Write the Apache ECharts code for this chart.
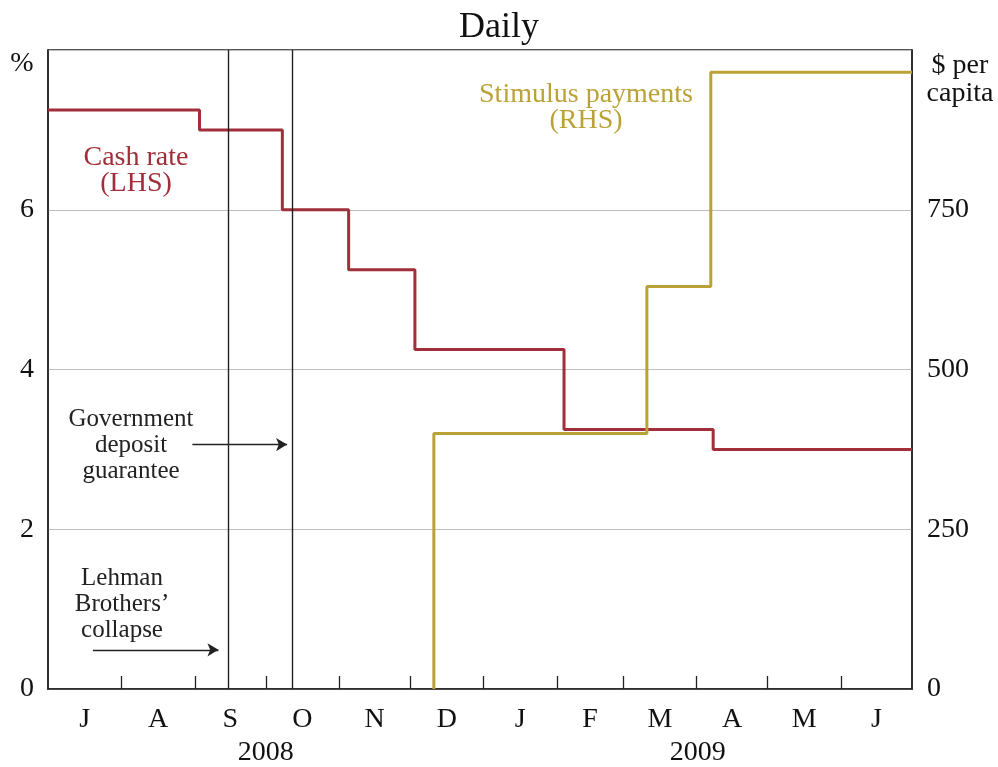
<!DOCTYPE html>
<html>
<head>
<meta charset="utf-8">
<script src="https://cdn.jsdelivr.net/npm/echarts@6/dist/echarts.min.js"></script>
<style>html,body{margin:0;padding:0;background:#fff}#c{width:998px;height:767px}</style>
</head>
<body>
<div id="c"></div>
<script>
// ---- data ----
const monthStarts = ['2008-07-01','2008-08-01','2008-09-01','2008-10-01','2008-11-01','2008-12-01','2009-01-01','2009-02-01','2009-03-01','2009-04-01','2009-05-01','2009-06-01','2009-07-01'];
const monthLabels = ['J','A','S','O','N','D','J','F','M','A','M','J'];
const yearLabels = ['2008','2009'];
const yearSpans = [['2008-07-01','2009-01-01'],['2009-01-01','2009-07-01']];

const cashDates = ['2008-07-01','2008-09-03','2008-10-08','2008-11-05','2008-12-03','2009-02-04','2009-04-08','2009-07-01'];
const cashRate  = [7.25, 7.00, 6.00, 5.25, 4.25, 3.25, 3.00, 3.00];

const stimDates = ['2008-12-11','2008-12-11','2009-03-11','2009-04-07','2009-07-01'];
const stimulus  = [0, 400, 630, 965, 965];

const eventDates = ['2008-09-15','2008-10-12'];   // Lehman collapse, deposit guarantee
const leftTicks = [0, 2, 4, 6, 8];
const rightTicks = [0, 250, 500, 750, 1000];

// ---- helpers ----
const DAY = 86400000;
const d = s => { const [y,m,dd] = s.split('-').map(Number); return Date.UTC(y, m-1, dd) / DAY; };
const tickVals = monthStarts.map(d);
const midVals = monthLabels.map((_, i) => (tickVals[i] + tickVals[i+1]) / 2);
const yearMids = yearSpans.map(p => (d(p[0]) + d(p[1])) / 2);

const RED = '#a12f3a', GOLD = '#bba237', FONT = 'Liberation Serif';

const chart = echarts.init(document.getElementById('c'), null, {renderer: 'canvas'});
chart.setOption({
  animation: false,
  backgroundColor: '#fff',
  title: {text: 'Daily', left: 'center', top: 5, textStyle: {fontFamily: FONT, fontSize: 36, fontWeight: 'normal', color: '#111'}},
  grid: {left: 48, right: 86, top: 50, bottom: 77, show: true, borderColor: '#222', borderWidth: 1.5, backgroundColor: 'transparent'},
  xAxis: [
    {type: 'value', min: tickVals[0], max: tickVals[tickVals.length-1], position: 'bottom',
     axisLine: {show: true, lineStyle: {color: '#222', width: 1.5}},
     axisTick: {show: true, inside: true, length: 13, lineStyle: {color: '#222', width: 1.3}, customValues: tickVals.slice(1, -1)},
     axisLabel: {show: true, customValues: midVals, margin: 17, fontFamily: FONT, fontSize: 28, lineHeight: 28, color: '#111',
       formatter: v => { const i = midVals.indexOf(v); return i >= 0 ? monthLabels[i] : ''; }},
     splitLine: {show: false}},
    {type: 'value', min: tickVals[0], max: tickVals[tickVals.length-1], position: 'bottom',
     axisLine: {show: false}, axisTick: {show: false}, splitLine: {show: false},
     axisLabel: {show: true, customValues: yearMids, margin: 50, fontFamily: FONT, fontSize: 28, lineHeight: 28, color: '#111',
       formatter: v => { const i = yearMids.indexOf(v); return i >= 0 ? yearLabels[i] : ''; }}}
  ],
  yAxis: [
    {type: 'value', min: leftTicks[0], max: leftTicks[leftTicks.length-1], interval: 2, position: 'left',
     axisLine: {show: true, lineStyle: {color: '#222', width: 1.5}}, axisTick: {show: false},
     axisLabel: {showMaxLabel: false, margin: 14, padding: [4, 0, 0, 0], fontFamily: FONT, fontSize: 28, color: '#111'},
     splitLine: {show: true, lineStyle: {color: '#bdbdbd', width: 1}}},
    {type: 'value', min: rightTicks[0], max: rightTicks[rightTicks.length-1], interval: 250, position: 'right',
     axisLine: {show: true, lineStyle: {color: '#222', width: 1.5}}, axisTick: {show: false},
     axisLabel: {showMaxLabel: false, margin: 15, padding: [4, 0, 0, 0], fontFamily: FONT, fontSize: 28, color: '#111'},
     splitLine: {show: false}}
  ],
  series: [
    {name: 'Events', type: 'line', xAxisIndex: 0, yAxisIndex: 0, data: [], silent: true,
     markLine: {silent: true, symbol: 'none', label: {show: false}, animation: false,
       lineStyle: {color: '#222', width: 1.4, type: 'solid'},
       data: eventDates.map(s => [{coord: [d(s), 0]}, {coord: [d(s), 8]}])}},
    {name: 'Arrows', type: 'line', xAxisIndex: 0, yAxisIndex: 0, data: [], silent: true,
     markLine: {silent: true, symbol: ['none', 'arrow'], symbolSize: [10, 11], label: {show: false}, animation: false,
       lineStyle: {color: '#222', width: 1.3, type: 'solid'},
       data: [
         [{coord: [d('2008-07-20'), 0.49]}, {coord: [d('2008-09-11'), 0.49]}],
         [{coord: [d('2008-08-31'), 3.06]}, {coord: [d('2008-10-10'), 3.06]}]
       ]}},
    {name: 'Cash rate', type: 'line', step: 'end', xAxisIndex: 0, yAxisIndex: 0, showSymbol: false,
     data: cashDates.map((s, i) => [d(s), cashRate[i]]),
     lineStyle: {color: RED, width: 3}, itemStyle: {color: RED}, z: 3},
    {name: 'Stimulus payments', type: 'line', step: 'end', xAxisIndex: 0, yAxisIndex: 1, showSymbol: false,
     data: stimDates.map((s, i) => [d(s), stimulus[i]]),
     lineStyle: {color: GOLD, width: 3}, itemStyle: {color: GOLD}, z: 4}
  ],
  graphic: [
    {type: 'text', x: 22, y: 64, style: {text: '%', align: 'center', verticalAlign: 'middle', fontFamily: FONT, fontSize: 28, fill: '#111'}},
    {type: 'text', x: 960, y: 80, style: {text: '$ per\ncapita', align: 'center', verticalAlign: 'middle', fontFamily: FONT, fontSize: 28, lineHeight: 28, fill: '#111'}},
    {type: 'text', x: 136, y: 171, style: {text: 'Cash rate\n(LHS)', align: 'center', verticalAlign: 'middle', fontFamily: FONT, fontSize: 28, lineHeight: 26, fill: RED}},
    {type: 'text', x: 586, y: 108, style: {text: 'Stimulus payments\n(RHS)', align: 'center', verticalAlign: 'middle', fontFamily: FONT, fontSize: 28, lineHeight: 26, fill: GOLD}},
    {type: 'text', x: 131, y: 445, style: {text: 'Government\ndeposit\nguarantee', align: 'center', verticalAlign: 'middle', fontFamily: FONT, fontSize: 25, lineHeight: 26, fill: '#222'}},
    {type: 'text', x: 122, y: 604, style: {text: 'Lehman\nBrothers\u2019\ncollapse', align: 'center', verticalAlign: 'middle', fontFamily: FONT, fontSize: 25, lineHeight: 26, fill: '#222'}}
  ]
});
</script>
</body>
</html>
